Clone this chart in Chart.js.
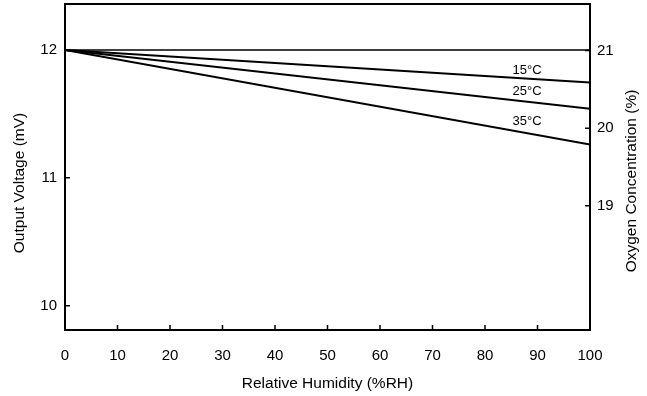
<!DOCTYPE html>
<html>
<head>
<meta charset="utf-8">
<script src="https://cdn.jsdelivr.net/npm/chart.js@4.4.0/dist/chart.umd.min.js"></script>
<style>
html, body { margin: 0; padding: 0; background: #fff; }
</style>
</head>
<body>
<canvas id="chart" width="647" height="396"></canvas>
<script>
// values
var humidity = [0, 100];
var baseLine = [12, 12];
var temp15 = [12, 11.745];
var temp25 = [12, 11.54];
var temp35 = [12, 11.26];

var seriesNames = ['15°C', '25°C', '35°C'];
var nameX = [88, 88, 88];
var nameY = [11.84, 11.675, 11.44];

var xTicks = [0, 10, 20, 30, 40, 50, 60, 70, 80, 90, 100];
var voltTicks = [10, 11, 12];
var oxyTicks = [19, 20, 21];

var xTitle = 'Relative Humidity (%RH)';
var yTitle = 'Output Voltage (mV)';
var y2Title = 'Oxygen Concentration (%)';

var FONT = '"Liberation Sans", Arial, sans-serif';

function points(ys) {
    return humidity.map(function (h, i) { return { x: h, y: ys[i] }; });
}

function lineSet(ys, w) {
    return {
        data: points(ys),
        borderColor: '#000',
        borderWidth: w,
        pointRadius: 0,
        tension: 0,
        yAxisID: 'y'
    };
}

function setTicks(list) {
    return function (scale) {
        scale.ticks = list.map(function (v) { return { value: v }; });
    };
}

function fixSize(prop, size) {
    return function (s) {
        s[prop] = size;
        s.paddingTop = 0;
        s.paddingBottom = 0;
        s.paddingLeft = 0;
        s.paddingRight = 0;
    };
}

var frame = {
    id: 'frame',
    afterDatasetsDraw: function (chart) {
        var ctx = chart.ctx;
        var a = chart.chartArea;
        var sx = chart.scales.x, sy = chart.scales.y, sy2 = chart.scales.y2;
        ctx.save();
        ctx.strokeStyle = '#000';
        ctx.lineWidth = 1.5;
        ctx.beginPath();
        sx.ticks.forEach(function (t) {
            var px = sx.getPixelForValue(t.value);
            ctx.moveTo(px, a.bottom);
            ctx.lineTo(px, a.bottom - 5);
        });
        sy.ticks.forEach(function (t) {
            var py = sy.getPixelForValue(t.value);
            ctx.moveTo(a.left, py);
            ctx.lineTo(a.left + 5, py);
        });
        sy2.ticks.forEach(function (t) {
            var py = sy2.getPixelForValue(t.value);
            ctx.moveTo(a.right, py);
            ctx.lineTo(a.right - 5, py);
        });
        ctx.stroke();
        ctx.lineWidth = 2;
        ctx.strokeRect(a.left, a.top, a.right - a.left, a.bottom - a.top);

        // curve names
        ctx.fillStyle = '#000';
        ctx.font = '13px ' + FONT;
        ctx.textAlign = 'center';
        ctx.textBaseline = 'middle';
        for (var i = 0; i < seriesNames.length; i++) {
            ctx.fillText(seriesNames[i], sx.getPixelForValue(nameX[i]), sy.getPixelForValue(nameY[i]));
        }

        // side titles
        ctx.font = '15.5px ' + FONT;
        ctx.save();
        ctx.translate(20, 183);
        ctx.rotate(-Math.PI / 2);
        ctx.fillText(yTitle, 0, 0);
        ctx.restore();
        ctx.save();
        ctx.translate(632, 181);
        ctx.rotate(-Math.PI / 2);
        ctx.fillText(y2Title, 0, 0);
        ctx.restore();
        ctx.restore();
    }
};

Chart.defaults.color = '#000';
Chart.defaults.font.family = FONT;

new Chart(document.getElementById('chart').getContext('2d'), {
    type: 'line',
    data: {
        datasets: [
            lineSet(baseLine, 1.5),
            lineSet(temp15, 2),
            lineSet(temp25, 2),
            lineSet(temp35, 2)
        ]
    },
    options: {
        responsive: false,
        animation: false,
        devicePixelRatio: 1,
        layout: { padding: { top: 4, left: 0, right: 0, bottom: 0 } },
        plugins: { legend: { display: false }, tooltip: { enabled: false } },
        scales: {
            x: {
                type: 'linear',
                min: 0,
                max: 100,
                afterBuildTicks: setTicks(xTicks),
                afterFit: fixSize('height', 66),
                grid: { display: false, drawTicks: false },
                border: { display: false },
                ticks: { font: { size: 15 }, padding: 17, maxRotation: 0 },
                title: { display: true, text: xTitle, font: { size: 15.5 }, padding: { top: 0, bottom: 3 } }
            },
            y: {
                position: 'left',
                min: 9.81,
                max: 12.36,
                afterBuildTicks: setTicks(voltTicks),
                afterFit: fixSize('width', 65),
                grid: { display: false, drawTicks: false },
                border: { display: false },
                ticks: { font: { size: 15 }, padding: 8 }
            },
            y2: {
                position: 'right',
                min: 17.4,
                max: 21.6,
                afterBuildTicks: setTicks(oxyTicks),
                afterFit: fixSize('width', 57),
                grid: { display: false, drawTicks: false },
                border: { display: false },
                ticks: { font: { size: 15 }, padding: 7 }
            }
        }
    },
    plugins: [frame]
});
</script>
</body>
</html>
